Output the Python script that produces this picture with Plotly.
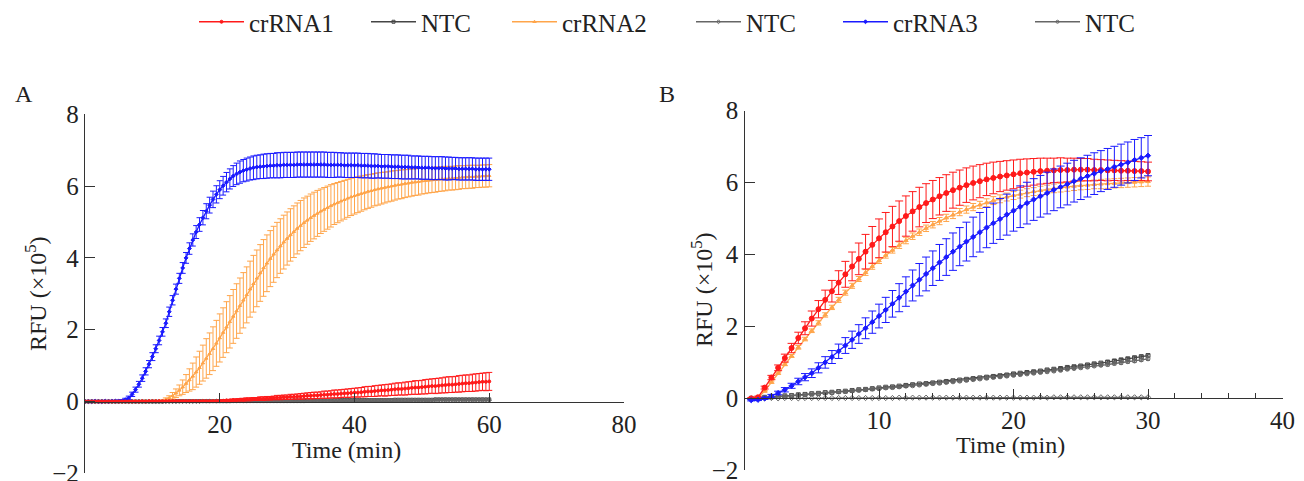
import plotly.graph_objects as go

W, H = 1304, 481
FONT = "Liberation Serif, Times New Roman, serif"

# ---------------- Panel A data (time in min, RFU x10^5) ----------------
TIME_A = [0, 0.5, 1, 1.5, 2, 2.5, 3, 3.5, 4, 4.5,
          5, 5.5, 6, 6.5, 7, 7.5, 8, 8.5, 9, 9.5,
          10, 10.5, 11, 11.5, 12, 12.5, 13, 13.5, 14, 14.5,
          15, 15.5, 16, 16.5, 17, 17.5, 18, 18.5, 19, 19.5,
          20, 20.5, 21, 21.5, 22, 22.5, 23, 23.5, 24, 24.5,
          25, 25.5, 26, 26.5, 27, 27.5, 28, 28.5, 29, 29.5,
          30, 30.5, 31, 31.5, 32, 32.5, 33, 33.5, 34, 34.5,
          35, 35.5, 36, 36.5, 37, 37.5, 38, 38.5, 39, 39.5,
          40, 40.5, 41, 41.5, 42, 42.5, 43, 43.5, 44, 44.5,
          45, 45.5, 46, 46.5, 47, 47.5, 48, 48.5, 49, 49.5,
          50, 50.5, 51, 51.5, 52, 52.5, 53, 53.5, 54, 54.5,
          55, 55.5, 56, 56.5, 57, 57.5, 58, 58.5, 59, 59.5,
          60]

CR1_A = [0.00, 0.00, 0.00, 0.00, 0.00, 0.00, 0.00, 0.00, 0.00, 0.00,
         0.00, 0.00, 0.00, 0.00, 0.00, 0.00, 0.00, 0.01, 0.00, 0.01,
         0.01, 0.01, 0.01, 0.01, 0.01, 0.01, 0.01, 0.01, 0.01, 0.01,
         0.01, 0.01, 0.01, 0.01, 0.01, 0.01, 0.01, 0.01, 0.01, 0.01,
         0.02, 0.02, 0.03, 0.03, 0.04, 0.04, 0.05, 0.05, 0.06, 0.06,
         0.07, 0.07, 0.08, 0.08, 0.09, 0.09, 0.10, 0.11, 0.11, 0.12,
         0.12, 0.13, 0.13, 0.14, 0.14, 0.15, 0.16, 0.16, 0.17, 0.17,
         0.18, 0.19, 0.19, 0.20, 0.21, 0.21, 0.22, 0.23, 0.23, 0.24,
         0.25, 0.25, 0.26, 0.27, 0.28, 0.28, 0.29, 0.30, 0.31, 0.31,
         0.32, 0.33, 0.34, 0.35, 0.35, 0.36, 0.37, 0.38, 0.39, 0.39,
         0.40, 0.41, 0.42, 0.43, 0.43, 0.44, 0.45, 0.46, 0.47, 0.47,
         0.48, 0.49, 0.50, 0.51, 0.51, 0.52, 0.53, 0.54, 0.55, 0.55,
         0.56]
CR1_A_ERR = [0.01, 0.01, 0.01, 0.01, 0.01, 0.01, 0.01, 0.01, 0.01, 0.01,
             0.01, 0.01, 0.01, 0.01, 0.01, 0.01, 0.01, 0.01, 0.01, 0.01,
             0.01, 0.01, 0.01, 0.01, 0.01, 0.02, 0.02, 0.02, 0.02, 0.02,
             0.02, 0.02, 0.02, 0.02, 0.02, 0.02, 0.02, 0.02, 0.02, 0.02,
             0.02, 0.02, 0.02, 0.03, 0.03, 0.03, 0.03, 0.04, 0.04, 0.04,
             0.04, 0.04, 0.05, 0.05, 0.05, 0.05, 0.05, 0.06, 0.06, 0.06,
             0.06, 0.07, 0.07, 0.07, 0.08, 0.08, 0.08, 0.09, 0.09, 0.09,
             0.09, 0.10, 0.10, 0.10, 0.11, 0.11, 0.11, 0.11, 0.12, 0.12,
             0.12, 0.13, 0.13, 0.14, 0.14, 0.14, 0.15, 0.15, 0.15, 0.16,
             0.16, 0.16, 0.17, 0.17, 0.17, 0.18, 0.18, 0.18, 0.19, 0.19,
             0.19, 0.20, 0.20, 0.20, 0.21, 0.21, 0.21, 0.22, 0.22, 0.22,
             0.22, 0.23, 0.23, 0.23, 0.23, 0.24, 0.24, 0.24, 0.24, 0.25,
             0.25]

CR2_A = [0.00, 0.00, 0.00, 0.00, 0.00, 0.00, 0.00, 0.00, 0.00, 0.00,
         0.00, 0.00, 0.00, 0.00, 0.00, 0.01, 0.00, 0.00, 0.01, 0.00,
         0.00, 0.01, 0.01, 0.02, 0.06, 0.10, 0.16, 0.23, 0.31, 0.40,
         0.50, 0.60, 0.70, 0.82, 0.94, 1.07, 1.20, 1.33, 1.47, 1.62,
         1.77, 1.92, 2.07, 2.22, 2.37, 2.52, 2.67, 2.82, 2.97, 3.13,
         3.28, 3.43, 3.58, 3.72, 3.85, 3.98, 4.10, 4.22, 4.33, 4.44,
         4.54, 4.64, 4.73, 4.82, 4.90, 4.98, 5.05, 5.12, 5.18, 5.24,
         5.30, 5.35, 5.40, 5.45, 5.50, 5.54, 5.58, 5.62, 5.66, 5.70,
         5.73, 5.76, 5.79, 5.82, 5.85, 5.87, 5.90, 5.92, 5.94, 5.96,
         5.98, 6.00, 6.02, 6.04, 6.05, 6.07, 6.08, 6.10, 6.11, 6.12,
         6.14, 6.15, 6.16, 6.17, 6.18, 6.19, 6.20, 6.21, 6.22, 6.22,
         6.23, 6.24, 6.25, 6.25, 6.26, 6.26, 6.27, 6.27, 6.28, 6.28,
         6.29]
CR2_A_ERR = [0.01, 0.01, 0.01, 0.01, 0.01, 0.01, 0.01, 0.01, 0.01, 0.01,
             0.01, 0.01, 0.01, 0.01, 0.01, 0.01, 0.01, 0.01, 0.01, 0.01,
             0.01, 0.01, 0.01, 0.02, 0.04, 0.06, 0.09, 0.12, 0.15, 0.20,
             0.25, 0.31, 0.37, 0.42, 0.46, 0.50, 0.55, 0.58, 0.61, 0.64,
             0.67, 0.69, 0.71, 0.73, 0.75, 0.76, 0.77, 0.77, 0.78, 0.78,
             0.79, 0.79, 0.79, 0.79, 0.79, 0.78, 0.78, 0.77, 0.76, 0.75,
             0.74, 0.73, 0.72, 0.71, 0.70, 0.69, 0.67, 0.66, 0.65, 0.64,
             0.62, 0.61, 0.60, 0.59, 0.57, 0.56, 0.55, 0.54, 0.53, 0.52,
             0.51, 0.50, 0.49, 0.48, 0.47, 0.46, 0.45, 0.45, 0.44, 0.43,
             0.42, 0.42, 0.41, 0.40, 0.40, 0.39, 0.38, 0.38, 0.37, 0.37,
             0.36, 0.36, 0.35, 0.35, 0.35, 0.34, 0.34, 0.34, 0.33, 0.33,
             0.33, 0.33, 0.32, 0.32, 0.32, 0.32, 0.31, 0.31, 0.31, 0.31,
             0.31]

CR3_A = [0.00, 0.00, 0.00, 0.01, 0.00, 0.00, 0.01, 0.00, 0.01, 0.01,
         0.01, 0.02, 0.05, 0.10, 0.20, 0.33, 0.48, 0.65, 0.84, 1.04,
         1.25, 1.47, 1.70, 1.94, 2.18, 2.50, 2.82, 3.13, 3.43, 3.72,
         4.00, 4.26, 4.50, 4.72, 4.93, 5.12, 5.30, 5.47, 5.63, 5.77,
         5.90, 6.01, 6.11, 6.20, 6.28, 6.34, 6.39, 6.43, 6.46, 6.49,
         6.51, 6.53, 6.54, 6.55, 6.56, 6.57, 6.57, 6.58, 6.58, 6.59,
         6.59, 6.59, 6.59, 6.60, 6.60, 6.60, 6.60, 6.60, 6.60, 6.60,
         6.60, 6.60, 6.59, 6.59, 6.59, 6.59, 6.59, 6.58, 6.58, 6.58,
         6.58, 6.58, 6.57, 6.57, 6.57, 6.56, 6.56, 6.56, 6.55, 6.55,
         6.55, 6.54, 6.54, 6.54, 6.53, 6.53, 6.53, 6.52, 6.52, 6.52,
         6.51, 6.51, 6.51, 6.50, 6.50, 6.50, 6.50, 6.49, 6.49, 6.49,
         6.49, 6.48, 6.48, 6.48, 6.48, 6.48, 6.47, 6.47, 6.47, 6.47,
         6.47]
CR3_A_ERR = [0.02, 0.02, 0.02, 0.02, 0.02, 0.02, 0.02, 0.02, 0.02, 0.02,
             0.03, 0.03, 0.04, 0.05, 0.06, 0.07, 0.08, 0.09, 0.10, 0.10,
             0.11, 0.11, 0.12, 0.12, 0.12, 0.13, 0.13, 0.14, 0.14, 0.15,
             0.15, 0.16, 0.17, 0.18, 0.19, 0.20, 0.21, 0.22, 0.23, 0.24,
             0.25, 0.26, 0.27, 0.28, 0.29, 0.30, 0.31, 0.31, 0.32, 0.32,
             0.33, 0.33, 0.33, 0.34, 0.34, 0.34, 0.34, 0.35, 0.35, 0.35,
             0.35, 0.35, 0.35, 0.35, 0.35, 0.35, 0.35, 0.35, 0.35, 0.35,
             0.35, 0.35, 0.35, 0.35, 0.35, 0.34, 0.34, 0.34, 0.34, 0.34,
             0.34, 0.34, 0.34, 0.34, 0.34, 0.34, 0.34, 0.33, 0.33, 0.33,
             0.33, 0.33, 0.33, 0.33, 0.33, 0.33, 0.33, 0.32, 0.32, 0.32,
             0.32, 0.32, 0.32, 0.32, 0.32, 0.32, 0.32, 0.32, 0.32, 0.31,
             0.31, 0.31, 0.31, 0.31, 0.31, 0.31, 0.31, 0.31, 0.31, 0.31,
             0.31]

NTC1_A = [0.00, 0.00, 0.00, 0.00, 0.00, 0.00, 0.00, 0.00, 0.00, 0.00,
          0.00, 0.00, 0.00, 0.00, 0.00, 0.00, 0.00, 0.00, 0.00, 0.00,
          0.00, 0.00, 0.00, 0.00, 0.01, 0.01, 0.01, 0.01, 0.01, 0.01,
          0.01, 0.01, 0.01, 0.01, 0.01, 0.01, 0.01, 0.01, 0.01, 0.01,
          0.01, 0.01, 0.01, 0.01, 0.02, 0.02, 0.02, 0.02, 0.02, 0.02,
          0.02, 0.02, 0.02, 0.02, 0.02, 0.02, 0.02, 0.02, 0.02, 0.02,
          0.02, 0.02, 0.03, 0.03, 0.03, 0.03, 0.03, 0.03, 0.03, 0.03,
          0.03, 0.03, 0.03, 0.03, 0.04, 0.04, 0.04, 0.04, 0.04, 0.04,
          0.04, 0.04, 0.04, 0.04, 0.04, 0.04, 0.04, 0.04, 0.04, 0.04,
          0.04, 0.04, 0.05, 0.05, 0.05, 0.05, 0.05, 0.05, 0.05, 0.05,
          0.05, 0.05, 0.05, 0.05, 0.06, 0.06, 0.06, 0.06, 0.06, 0.06,
          0.06, 0.06, 0.06, 0.06, 0.06, 0.06, 0.06, 0.06, 0.06, 0.06,
          0.06]
NTC2_A = [0.00, 0.00, 0.00, 0.00, 0.00, 0.00, 0.00, 0.00, 0.00, 0.00,
          0.00, 0.00, 0.00, 0.00, 0.00, 0.00, 0.00, 0.00, 0.00, 0.00,
          0.00, 0.00, 0.00, 0.00, 0.00, 0.00, 0.00, 0.00, 0.00, 0.00,
          0.00, 0.00, 0.00, 0.00, 0.00, 0.01, 0.01, 0.01, 0.01, 0.01,
          0.01, 0.01, 0.01, 0.01, 0.01, 0.01, 0.01, 0.01, 0.01, 0.01,
          0.01, 0.01, 0.01, 0.01, 0.01, 0.01, 0.01, 0.01, 0.01, 0.01,
          0.01, 0.01, 0.01, 0.01, 0.01, 0.01, 0.02, 0.02, 0.02, 0.02,
          0.02, 0.02, 0.02, 0.02, 0.02, 0.02, 0.02, 0.02, 0.02, 0.02,
          0.02, 0.02, 0.02, 0.02, 0.02, 0.02, 0.02, 0.02, 0.02, 0.02,
          0.02, 0.02, 0.02, 0.02, 0.02, 0.02, 0.02, 0.03, 0.03, 0.03,
          0.03, 0.03, 0.03, 0.03, 0.03, 0.03, 0.03, 0.03, 0.03, 0.03,
          0.03, 0.03, 0.03, 0.03, 0.03, 0.03, 0.03, 0.03, 0.03, 0.03,
          0.03]
NTC3_A = [0.00, 0.00, 0.00, 0.00, 0.00, 0.00, 0.00, 0.00, 0.00, 0.00,
          0.00, 0.00, 0.00, 0.00, 0.00, 0.00, 0.00, 0.00, 0.00, 0.00,
          0.00, 0.00, 0.00, 0.00, 0.00, 0.00, 0.00, 0.00, 0.01, 0.01,
          0.01, 0.01, 0.01, 0.01, 0.01, 0.01, 0.01, 0.01, 0.01, 0.01,
          0.01, 0.01, 0.01, 0.01, 0.01, 0.01, 0.01, 0.01, 0.01, 0.02,
          0.02, 0.02, 0.02, 0.02, 0.02, 0.02, 0.02, 0.02, 0.02, 0.02,
          0.02, 0.02, 0.02, 0.02, 0.02, 0.02, 0.02, 0.03, 0.03, 0.03,
          0.03, 0.03, 0.03, 0.03, 0.03, 0.03, 0.03, 0.03, 0.03, 0.03,
          0.03, 0.03, 0.03, 0.03, 0.03, 0.04, 0.04, 0.04, 0.04, 0.04,
          0.04, 0.04, 0.04, 0.04, 0.04, 0.04, 0.04, 0.04, 0.04, 0.04,
          0.04, 0.04, 0.04, 0.04, 0.05, 0.05, 0.05, 0.05, 0.05, 0.05,
          0.05, 0.05, 0.05, 0.05, 0.05, 0.05, 0.05, 0.05, 0.05, 0.05,
          0.05]

# ---------------- Panel B data ----------------
TIME_B = [0.5, 1, 1.5, 2, 2.5, 3, 3.5, 4, 4.5, 5,
          5.5, 6, 6.5, 7, 7.5, 8, 8.5, 9, 9.5, 10,
          10.5, 11, 11.5, 12, 12.5, 13, 13.5, 14, 14.5, 15,
          15.5, 16, 16.5, 17, 17.5, 18, 18.5, 19, 19.5, 20,
          20.5, 21, 21.5, 22, 22.5, 23, 23.5, 24, 24.5, 25,
          25.5, 26, 26.5, 27, 27.5, 28, 28.5, 29, 29.5, 30]

CR1_B = [0.00, 0.03, 0.30, 0.58, 0.85, 1.12, 1.40, 1.68, 1.95, 2.22,
         2.48, 2.74, 2.98, 3.22, 3.45, 3.67, 3.88, 4.08, 4.27, 4.45,
         4.62, 4.78, 4.93, 5.07, 5.20, 5.32, 5.43, 5.53, 5.62, 5.71,
         5.79, 5.86, 5.93, 5.99, 6.04, 6.09, 6.13, 6.17, 6.20, 6.23,
         6.26, 6.28, 6.30, 6.32, 6.33, 6.34, 6.35, 6.35, 6.36, 6.36,
         6.36, 6.35, 6.35, 6.34, 6.34, 6.33, 6.33, 6.32, 6.32, 6.31]
CR1_B_ERR = [0.02, 0.03, 0.04, 0.06, 0.08, 0.11, 0.13, 0.16, 0.18, 0.21,
             0.24, 0.27, 0.30, 0.33, 0.36, 0.40, 0.44, 0.48, 0.51, 0.54,
             0.55, 0.56, 0.56, 0.56, 0.55, 0.55, 0.54, 0.53, 0.52, 0.51,
             0.50, 0.49, 0.48, 0.47, 0.46, 0.45, 0.44, 0.42, 0.41, 0.40,
             0.39, 0.38, 0.37, 0.36, 0.35, 0.34, 0.34, 0.33, 0.32, 0.31,
             0.31, 0.30, 0.29, 0.29, 0.28, 0.28, 0.27, 0.27, 0.26, 0.26]

CR2_B = [0.00, 0.02, 0.20, 0.45, 0.70, 0.95, 1.18, 1.42, 1.65, 1.88,
         2.10, 2.32, 2.53, 2.74, 2.94, 3.13, 3.32, 3.50, 3.67, 3.83,
         3.98, 4.12, 4.26, 4.39, 4.51, 4.62, 4.73, 4.83, 4.93, 5.02,
         5.10, 5.18, 5.25, 5.32, 5.38, 5.44, 5.50, 5.55, 5.60, 5.64,
         5.68, 5.72, 5.75, 5.78, 5.81, 5.84, 5.86, 5.88, 5.90, 5.92,
         5.93, 5.95, 5.96, 5.97, 5.98, 5.99, 6.00, 6.01, 6.02, 6.03]
CR2_B_ERR = [0.01, 0.02, 0.02, 0.03, 0.03, 0.04, 0.04, 0.05, 0.05, 0.05,
             0.06, 0.06, 0.06, 0.07, 0.07, 0.07, 0.07, 0.08, 0.08, 0.08,
             0.08, 0.08, 0.09, 0.09, 0.09, 0.09, 0.09, 0.09, 0.10, 0.10,
             0.10, 0.10, 0.10, 0.10, 0.10, 0.11, 0.11, 0.11, 0.11, 0.11,
             0.11, 0.11, 0.11, 0.12, 0.12, 0.12, 0.12, 0.12, 0.12, 0.12,
             0.12, 0.12, 0.13, 0.13, 0.13, 0.13, 0.13, 0.13, 0.13, 0.13]

CR3_B = [-0.05, -0.04, 0.00, 0.07, 0.15, 0.24, 0.35, 0.47, 0.59, 0.70,
         0.85, 1.00, 1.15, 1.31, 1.47, 1.63, 1.79, 1.95, 2.12, 2.29,
         2.46, 2.63, 2.80, 2.97, 3.14, 3.30, 3.46, 3.62, 3.78, 3.93,
         4.08, 4.22, 4.36, 4.49, 4.62, 4.75, 4.87, 4.99, 5.11, 5.22,
         5.33, 5.43, 5.53, 5.62, 5.71, 5.80, 5.88, 5.96, 6.04, 6.11,
         6.18, 6.25, 6.32, 6.38, 6.44, 6.50, 6.56, 6.63, 6.69, 6.75]
CR3_B_ERR = [0.02, 0.02, 0.03, 0.04, 0.05, 0.06, 0.07, 0.09, 0.10, 0.12,
             0.14, 0.16, 0.18, 0.20, 0.22, 0.24, 0.26, 0.29, 0.31, 0.33,
             0.35, 0.37, 0.39, 0.41, 0.43, 0.45, 0.47, 0.48, 0.50, 0.51,
             0.52, 0.53, 0.54, 0.55, 0.55, 0.56, 0.56, 0.57, 0.57, 0.57,
             0.58, 0.58, 0.58, 0.58, 0.58, 0.58, 0.58, 0.58, 0.58, 0.58,
             0.58, 0.58, 0.57, 0.57, 0.57, 0.57, 0.57, 0.57, 0.56, 0.56]

NTC1_B = [0.00, 0.01, 0.03, 0.04, 0.05, 0.07, 0.08, 0.10, 0.11, 0.13,
          0.14, 0.16, 0.17, 0.19, 0.20, 0.22, 0.24, 0.25, 0.27, 0.29,
          0.31, 0.32, 0.34, 0.36, 0.38, 0.40, 0.41, 0.43, 0.45, 0.47,
          0.49, 0.51, 0.53, 0.55, 0.57, 0.59, 0.61, 0.63, 0.65, 0.68,
          0.70, 0.72, 0.74, 0.76, 0.79, 0.81, 0.83, 0.86, 0.88, 0.90,
          0.93, 0.96, 0.98, 1.01, 1.04, 1.07, 1.10, 1.13, 1.16, 1.19]
NTC2_B = [0.00, 0.00, 0.00, 0.01, 0.00, 0.01, 0.01, 0.00, 0.01, 0.01,
          0.01, 0.01, 0.01, 0.01, 0.01, 0.01, 0.01, 0.01, 0.01, 0.01,
          0.01, 0.01, 0.02, 0.01, 0.02, 0.02, 0.02, 0.02, 0.02, 0.02,
          0.02, 0.02, 0.02, 0.02, 0.02, 0.02, 0.02, 0.02, 0.02, 0.02,
          0.02, 0.02, 0.02, 0.03, 0.02, 0.03, 0.03, 0.03, 0.03, 0.03,
          0.03, 0.03, 0.03, 0.03, 0.03, 0.03, 0.03, 0.03, 0.03, 0.03]
NTC3_B = [0.00, 0.01, 0.02, 0.04, 0.05, 0.06, 0.08, 0.09, 0.10, 0.12,
          0.13, 0.15, 0.16, 0.18, 0.19, 0.21, 0.22, 0.24, 0.26, 0.27,
          0.29, 0.30, 0.32, 0.34, 0.35, 0.37, 0.39, 0.41, 0.42, 0.44,
          0.46, 0.48, 0.50, 0.52, 0.54, 0.56, 0.58, 0.60, 0.62, 0.64,
          0.66, 0.68, 0.70, 0.72, 0.74, 0.76, 0.78, 0.81, 0.83, 0.85,
          0.87, 0.90, 0.92, 0.94, 0.97, 0.99, 1.02, 1.04, 1.07, 1.10]
NTC_B_ERR = [0.01, 0.01, 0.01, 0.01, 0.01, 0.01, 0.01, 0.01, 0.01, 0.01,
             0.01, 0.01, 0.01, 0.01, 0.02, 0.02, 0.02, 0.02, 0.02, 0.02,
             0.02, 0.02, 0.02, 0.02, 0.02, 0.02, 0.02, 0.02, 0.02, 0.02,
             0.02, 0.02, 0.02, 0.02, 0.02, 0.03, 0.03, 0.03, 0.03, 0.03,
             0.03, 0.03, 0.03, 0.03, 0.03, 0.03, 0.03, 0.03, 0.03, 0.03,
             0.03, 0.03, 0.03, 0.04, 0.04, 0.04, 0.04, 0.04, 0.04, 0.04]

for arr in (CR1_A, CR1_A_ERR, CR2_A, CR2_A_ERR, CR3_A, CR3_A_ERR, NTC1_A, NTC2_A, NTC3_A):
    assert len(arr) == len(TIME_A), len(arr)
for arr in (CR1_B, CR1_B_ERR, CR2_B, CR2_B_ERR, CR3_B, CR3_B_ERR, NTC1_B, NTC2_B, NTC3_B, NTC_B_ERR):
    assert len(arr) == len(TIME_B), len(arr)

LEGEND_NAMES = ["crRNA1", "NTC", "crRNA2", "NTC", "crRNA3", "NTC"]

# ---------------- styling ----------------
RED = "#ff1a1a"
ORANGE = "#ffa54a"
BLUE = "#1a1aff"
GRAY = "#454545"
GRAY2 = "#666666"

STYLE = [
    dict(color=RED, symbol="circle"),
    dict(color=GRAY, symbol="square-open"),
    dict(color=ORANGE, symbol="triangle-up"),
    dict(color=GRAY2, symbol="diamond-open"),
    dict(color=BLUE, symbol="diamond"),
    dict(color=GRAY2, symbol="circle-open"),
]
LEGEND_IDS = ["legend", "legend2", "legend3", "legend4", "legend5", "legend6"]
LEGEND_X_PX = [194, 366, 507, 691, 838, 1030]


def px_x(p):
    return p / W


def px_y(p):
    return 1 - p / H


fig = go.Figure()


def add(idx, x, y, err, xa, ya, msize, cap, show):
    st = STYLE[idx]
    err_kw = None
    if err is not None:
        err_kw = dict(type="data", array=err, visible=True, color=st["color"],
                      thickness=1, width=cap)
    fig.add_trace(go.Scatter(
        x=x, y=y, mode="lines+markers", name=LEGEND_NAMES[idx],
        legend=LEGEND_IDS[idx], showlegend=show, legendgroup=str(idx),
        xaxis=xa, yaxis=ya,
        line=dict(color=st["color"], width=1.3),
        marker=dict(color=st["color"], symbol=st["symbol"], size=msize,
                    line=dict(color=st["color"], width=1)),
        error_y=err_kw,
    ))


# Panel A (draw order: NTCs, crRNA2, crRNA3, crRNA1)
add(1, TIME_A, NTC1_A, None, "x", "y", 3, 2, True)
add(3, TIME_A, NTC2_A, None, "x", "y", 3, 2, True)
add(5, TIME_A, NTC3_A, None, "x", "y", 3, 2, True)
add(2, TIME_A, CR2_A, CR2_A_ERR, "x", "y", 3, 3, True)
add(4, TIME_A, CR3_A, CR3_A_ERR, "x", "y", 3, 3, True)
add(0, TIME_A, CR1_A, CR1_A_ERR, "x", "y", 3, 3, True)

# Panel B
add(1, TIME_B, NTC1_B, NTC_B_ERR, "x2", "y2", 4, 2, False)
add(3, TIME_B, NTC2_B, None, "x2", "y2", 4, 2, False)
add(5, TIME_B, NTC3_B, NTC_B_ERR, "x2", "y2", 4, 2, False)
add(2, TIME_B, CR2_B, CR2_B_ERR, "x2", "y2", 4, 3, False)
add(0, TIME_B, CR1_B, CR1_B_ERR, "x2", "y2", 5, 4, False)
add(4, TIME_B, CR3_B, CR3_B_ERR, "x2", "y2", 4, 4, False)

TICKFONT = dict(family=FONT, size=25, color="#222222")
AXCOL = "#333333"

# Panel geometry (pixels)
A_X0, A_X1 = 85, 624
A_YTOP, A_YBOT, A_Y0 = 114.3, 473.3, 401.7
B_X0, B_X1 = 744.5, 1282.5
B_YTOP, B_YBOT, B_Y0 = 110.7, 470.3, 398.3

xa_common = dict(showline=True, linecolor=AXCOL, linewidth=1.3, ticks="inside",
                 tickcolor=AXCOL, tickwidth=1.3, showgrid=False, zeroline=False,
                 tickfont=TICKFONT, anchor="free", automargin=False,
                 ticklabeloverflow="allow")
ya_common = dict(showline=True, linecolor=AXCOL, linewidth=1.3, ticks="inside",
                 tickcolor=AXCOL, tickwidth=1.3, ticklen=10, showgrid=False,
                 zeroline=False, tickfont=TICKFONT, range=[-2, 8],
                 tickvals=[-2, 0, 2, 4, 6, 8], automargin=False,
                 ticklabeloverflow="allow")

fig.update_layout(
    width=W, height=H,
    margin=dict(l=0, r=0, t=0, b=0, pad=0, autoexpand=False),
    paper_bgcolor="white", plot_bgcolor="rgba(0,0,0,0)",
    font=dict(family=FONT, size=24, color="#222222"),
    xaxis=dict(domain=[px_x(A_X0), px_x(A_X1)], range=[0, 80],
               tickvals=[20, 40, 60, 80], ticklen=9,
               position=px_y(A_Y0), **xa_common),
    yaxis=dict(domain=[px_y(A_YBOT), px_y(A_YTOP)], anchor="x", **ya_common),
    xaxis2=dict(domain=[px_x(B_X0), px_x(B_X1)], range=[0, 40],
                tickvals=[10, 20, 30, 40], ticklen=9,
                minor=dict(dtick=2, ticks="inside", ticklen=5, tickcolor=AXCOL, tickwidth=1),
                position=px_y(B_Y0), **xa_common),
    yaxis2=dict(domain=[px_y(B_YBOT), px_y(B_YTOP)], anchor="x2", **ya_common),
)

for i, lid in enumerate(LEGEND_IDS):
    fig.update_layout({lid: dict(
        x=px_x(LEGEND_X_PX[i]), y=px_y(22), xanchor="left", yanchor="middle",
        orientation="h", bgcolor="rgba(0,0,0,0)", borderwidth=0,
        font=dict(family=FONT, size=25, color="#222222"), itemwidth=45,
    )})

TXT = dict(family=FONT, size=24, color="#222222")


def note(text, xp, yp, angle=0):
    return dict(text=text, x=px_x(xp), y=px_y(yp), xref="paper", yref="paper",
                xanchor="center", yanchor="middle", showarrow=False,
                textangle=angle, font=TXT)


ann = [
    note("A", 24, 94),
    note("B", 667, 94),
    note("Time (min)", 346, 450),
    note("Time (min)", 1010, 445),
    note("RFU (×10<sup>5</sup>)", 36, 294, -90),
    note("RFU (×10<sup>5</sup>)", 702, 290, -90),
]
fig.update_layout(annotations=ann)

fig.write_html(
    "out.html",
    config={"displayModeBar": False},
    post_script="document.body.style.margin='0';document.body.style.padding='0';",
)
